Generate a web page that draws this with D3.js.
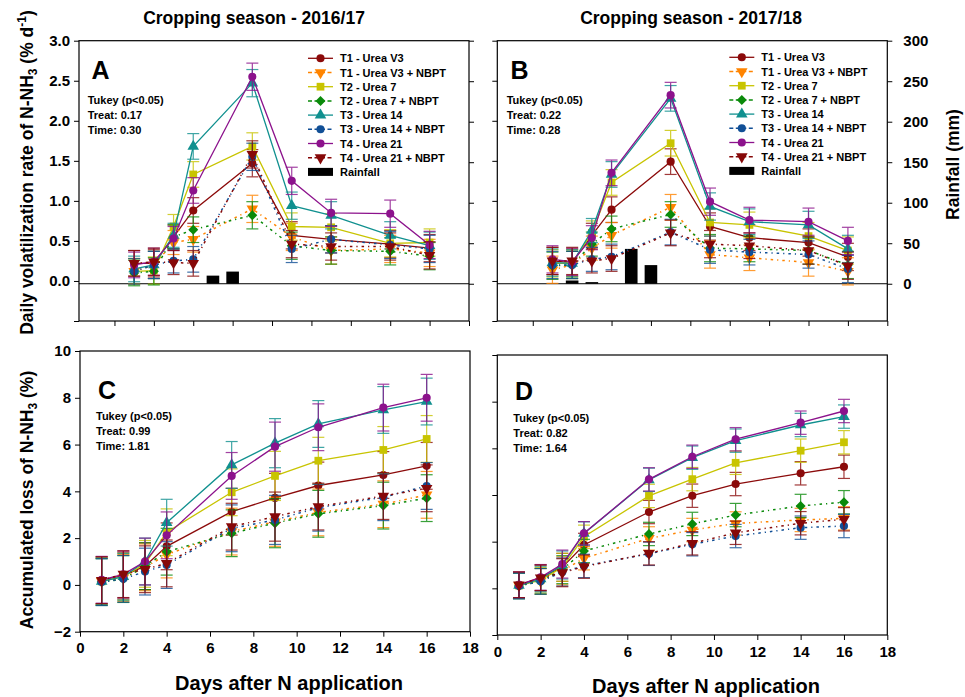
<!DOCTYPE html>
<html><head><meta charset="utf-8">
<script src="https://cdn.jsdelivr.net/npm/d3@7"></script>
<style>
body{margin:0;background:#fff}
svg{font-family:"Liberation Sans",Arial,sans-serif;font-weight:bold}
</style>
</head><body>
<svg id="chart" width="965" height="697"></svg>
<script>
// ---------------- DATA ----------------
const days = [1, 2, 3, 4, 7, 9, 11, 14, 16];
const seriesNames = ["T1 - Urea V3", "T1 - Urea V3 + NBPT", "T2 - Urea 7", "T2 - Urea 7 + NBPT",
  "T3 - Urea 14", "T3 - Urea 14 + NBPT", "T4 - Urea 21", "T4 - Urea 21 + NBPT"];
const seriesColors = ["#8b0a0a", "#ff8400", "#c8c400", "#0a8a0a", "#10908f", "#114f96", "#8c128c", "#860808"];
const seriesSymbols = ["circle", "triangleDown", "square", "diamond", "triangle", "circle", "circle", "triangleDown"];
const seriesDashed = [false, true, false, true, false, true, false, true];

// Panel A – daily volatilization rate, 2016/17 (% d-1)
const rateA = [
  [0.22, 0.22, 0.55, 0.88, 1.47, 0.57, 0.52, 0.46, 0.41],
  [0.12, 0.20, 0.48, 0.52, 0.90, 0.55, 0.38, 0.40, 0.35],
  [0.12, 0.13, 0.68, 1.33, 1.68, 0.68, 0.67, 0.47, 0.48],
  [0.10, 0.12, 0.55, 0.64, 0.82, 0.44, 0.38, 0.37, 0.31],
  [0.15, 0.20, 0.57, 1.68, 2.47, 0.94, 0.82, 0.57, 0.44],
  [0.12, 0.20, 0.25, 0.27, 1.55, 0.40, 0.52, 0.45, 0.40],
  [0.20, 0.24, 0.53, 1.13, 2.55, 1.25, 0.85, 0.84, 0.45],
  [0.22, 0.24, 0.23, 0.22, 1.58, 0.46, 0.43, 0.43, 0.32]
];
const errA = [0.16, 0.17, 0.15, 0.16, 0.17, 0.17, 0.17, 0.17, 0.17];
// Panel B – daily volatilization rate, 2017/18
const rateB = [
  [0.25, 0.23, 0.57, 0.89, 1.49, 0.68, 0.54, 0.48, 0.30],
  [0.14, 0.20, 0.41, 0.57, 0.92, 0.33, 0.29, 0.23, 0.12],
  [0.22, 0.22, 0.60, 1.23, 1.72, 0.73, 0.70, 0.56, 0.38],
  [0.19, 0.20, 0.46, 0.65, 0.83, 0.41, 0.40, 0.38, 0.20],
  [0.23, 0.22, 0.63, 1.33, 2.28, 0.93, 0.74, 0.70, 0.40],
  [0.20, 0.20, 0.27, 0.30, 0.61, 0.39, 0.36, 0.33, 0.15],
  [0.27, 0.24, 0.54, 1.35, 2.32, 0.99, 0.76, 0.74, 0.50],
  [0.25, 0.25, 0.25, 0.28, 0.60, 0.46, 0.44, 0.38, 0.19]
];
const errB = [0.17, 0.17, 0.15, 0.16, 0.16, 0.17, 0.16, 0.17, 0.17];
// Rainfall (mm)
const rainDaysA = [5, 6];
const rainA = [10, 15];
const rainDaysB = [2, 3, 5, 6];
const rainB = [4, 2, 43, 23];
// Panel C – accumulated loss, 2016/17 (%)
const accC = [
  [0.20, 0.40, 0.80, 1.65, 3.13, 3.72, 4.25, 4.70, 5.09],
  [0.15, 0.30, 0.75, 1.30, 2.28, 2.70, 3.10, 3.45, 3.85],
  [0.15, 0.35, 0.90, 2.25, 3.96, 4.66, 5.31, 5.77, 6.24],
  [0.12, 0.25, 0.80, 1.42, 2.21, 2.64, 3.04, 3.39, 3.71],
  [0.15, 0.35, 1.00, 2.66, 5.13, 6.06, 6.88, 7.48, 7.84],
  [0.12, 0.26, 0.57, 0.85, 2.42, 2.78, 3.30, 3.75, 4.23],
  [0.22, 0.45, 1.00, 2.12, 4.66, 5.91, 6.74, 7.58, 8.00],
  [0.20, 0.46, 0.67, 0.92, 2.49, 2.92, 3.35, 3.80, 4.13]
];
const errC = [1.0, 1.0, 1.0, 1.0, 1.0, 1.05, 1.0, 1.0, 1.0];
// Panel D – accumulated loss, 2017/18 (%)
const accD = [
  [0.15, 0.45, 0.90, 1.86, 3.27, 3.97, 4.47, 4.93, 5.21],
  [0.12, 0.30, 0.75, 1.29, 2.14, 2.50, 2.78, 2.93, 3.00],
  [0.12, 0.35, 0.90, 2.21, 3.96, 4.68, 5.38, 5.90, 6.26],
  [0.10, 0.30, 0.80, 1.60, 2.33, 2.76, 3.14, 3.53, 3.69],
  [0.12, 0.40, 1.00, 2.35, 4.65, 5.60, 6.33, 7.00, 7.36],
  [0.10, 0.30, 0.70, 0.96, 1.48, 1.89, 2.24, 2.60, 2.67],
  [0.15, 0.47, 1.04, 2.36, 4.67, 5.64, 6.39, 7.10, 7.60],
  [0.15, 0.45, 0.67, 0.93, 1.50, 1.93, 2.38, 2.79, 2.96]
];
const errD = [0.55, 0.55, 0.6, 0.5, 0.5, 0.5, 0.5, 0.5, 0.5];

const rateTicks = [-0.5, 0, 0.5, 1.0, 1.5, 2.0, 2.5, 3.0];
const rainTicks = [0, 50, 100, 150, 200, 250, 300];
const accTicks = [-2, 0, 2, 4, 6, 8, 10];
const dayTicks = [0, 2, 4, 6, 8, 10, 12, 14, 16, 18];
const tukeyA = ["Tukey (p<0.05)", "Treat: 0.17", "Time: 0.30"];
const tukeyB = ["Tukey (p<0.05)", "Treat: 0.22", "Time: 0.28"];
const tukeyC = ["Tukey (p<0.05)", "Treat: 0.99", "Time: 1.81"];
const tukeyD = ["Tukey (p<0.05)", "Treat: 0.82", "Time: 1.64"];
const titles = ["Cropping season - 2016/17", "Cropping season - 2017/18"];

// ---------------- DRAWING ----------------
const svg = d3.select("#chart");
const DASH = "2.5,4,1.2,4";

function symbolFor(kind) {
  switch (kind) {
    case "circle": return {d: d3.symbol(d3.symbolCircle, 52)(), rot: 0};
    case "square": return {d: d3.symbol(d3.symbolSquare, 60)(), rot: 0};
    case "triangle": return {d: d3.symbol(d3.symbolTriangle, 58)(), rot: 0};
    case "triangleDown": return {d: d3.symbol(d3.symbolTriangle, 58)(), rot: 180};
    case "diamond": return {d: d3.symbol(d3.symbolSquare, 50)(), rot: 45};
  }
}

function drawPanel(p) {
  const g = svg.append("g");
  const x = d3.scaleLinear().domain(p.xDomain).range([p.x0, p.x1]);
  const y = d3.scaleLinear().domain(p.yDomain).range([p.y1, p.y0]);

  // rainfall
  if (p.rain) {
    const r = d3.scaleLinear().domain([-46, 300]).range([p.y1, p.y0]);
    g.selectAll("rect.rain").data(p.rainDays.map((d, i) => [d, p.rain[i]])).join("rect")
      .attr("x", d => x(d[0] - 0.32)).attr("width", d => x(d[0] + 0.32) - x(d[0] - 0.32))
      .attr("y", d => r(d[1])).attr("height", d => r(0) - r(d[1])).attr("fill", "#000");
    g.append("line").attr("x1", p.x0).attr("x2", p.x1).attr("y1", r(0)).attr("y2", r(0))
      .attr("stroke", "#000").attr("stroke-width", 1);
    const ra = d3.axisRight(r).tickValues(rainTicks).tickSize(5).tickSizeOuter(0)
      .tickFormat(p.rainLabels ? d3.format("d") : "");
    const rg = g.append("g").attr("transform", `translate(${p.x1},0)`).call(ra);
    rg.select(".domain").remove();
    rg.selectAll("text").attr("font-size", 15).attr("font-weight", "bold").attr("font-family", "Liberation Sans, Arial, sans-serif").attr("dx", 8).attr("fill", "#000");
  }

  // left axis
  const la = d3.axisLeft(y).tickValues(p.yTicks).tickSize(5).tickSizeOuter(0)
    .tickFormat(p.yLabels ? (v => (v < p.yTicks[0] + 1e-9 && p.skipFirst) ? "" : p.yFmt(v)) : "");
  const lg = g.append("g").attr("transform", `translate(${p.x0},0)`).call(la);
  lg.select(".domain").remove();
  lg.selectAll("text").attr("font-size", 15).attr("font-weight", "bold").attr("font-family", "Liberation Sans, Arial, sans-serif").attr("dx", -1).attr("fill", "#000");
  // bottom axis
  const ba = d3.axisBottom(x).tickValues(dayTicks).tickSize(5).tickSizeOuter(0)
    .tickFormat(p.xLabels ? d3.format("d") : "");
  const bg = g.append("g").attr("transform", `translate(0,${p.y1})`).call(ba);
  bg.select(".domain").remove();
  bg.selectAll("text").attr("font-size", 15).attr("font-weight", "bold").attr("font-family", "Liberation Sans, Arial, sans-serif").attr("dy", "0.9em").attr("fill", "#000");

  // frame
  g.append("rect").attr("x", p.x0).attr("y", p.y0).attr("width", p.x1 - p.x0).attr("height", p.y1 - p.y0)
    .attr("fill", "none").attr("stroke", "#000").attr("stroke-width", 1.2);

  // series
  const line = d3.line().x(d => x(d[0])).y(d => y(d[1]));
  p.data.forEach((vals, si) => {
    const col = seriesColors[si];
    const pts = days.map((d, i) => [d, vals[i], p.err[i]]);
    const eg = g.append("g").attr("stroke", col).attr("stroke-width", 1.2).attr("opacity", 0.8);
    pts.forEach(pt => {
      const xx = x(pt[0]);
      eg.append("line").attr("x1", xx).attr("x2", xx).attr("y1", y(pt[1] - pt[2])).attr("y2", y(pt[1] + pt[2]));
      eg.append("line").attr("x1", xx - 6).attr("x2", xx + 6).attr("y1", y(pt[1] - pt[2])).attr("y2", y(pt[1] - pt[2]));
      eg.append("line").attr("x1", xx - 6).attr("x2", xx + 6).attr("y1", y(pt[1] + pt[2])).attr("y2", y(pt[1] + pt[2]));
    });
    g.append("path").datum(pts).attr("d", line).attr("fill", "none").attr("stroke", col)
      .attr("stroke-width", seriesDashed[si] ? 1.5 : 1.3)
      .attr("stroke-dasharray", seriesDashed[si] ? DASH : null);
    const sym = symbolFor(seriesSymbols[si]);
    g.selectAll(null).data(pts).join("path").attr("d", sym.d)
      .attr("transform", d => `translate(${x(d[0])},${y(d[1])}) rotate(${sym.rot})`)
      .attr("fill", col);
  });

  // panel letter
  g.append("text").attr("x", p.letterX).attr("y", p.letterY).attr("font-size", 25).text(p.letter);
  // Tukey
  p.tukey.forEach((t, i) => {
    g.append("text").attr("x", p.tukX).attr("y", p.tukY + i * 15).attr("font-size", 11).text(t);
  });

  // legend
  if (p.legend) {
    const L = p.legend;
    seriesNames.forEach((nm, i) => {
      const cy = L.y + i * 14.2;
      g.append("line").attr("x1", L.x).attr("x2", L.x + 25).attr("y1", cy).attr("y2", cy)
        .attr("stroke", seriesColors[i]).attr("stroke-width", seriesDashed[i] ? 1.5 : 1.3)
        .attr("stroke-dasharray", seriesDashed[i] ? "4,2.5" : null);
      const sym = symbolFor(seriesSymbols[i]);
      g.append("path").attr("d", sym.d).attr("transform", `translate(${L.x + 12.5},${cy}) rotate(${sym.rot})`)
        .attr("fill", seriesColors[i]);
      g.append("text").attr("x", L.x + 32).attr("y", cy + 4).attr("font-size", 11).text(nm);
    });
    const cy = L.y + 8 * 14.2;
    g.append("rect").attr("x", L.x).attr("y", cy - 4).attr("width", 25).attr("height", 8).attr("fill", "#000");
    g.append("text").attr("x", L.x + 32).attr("y", cy + 4).attr("font-size", 11).text("Rainfall");
  }
}

const fmt1 = d3.format(".1f");
drawPanel({x0: 79, x1: 469, y0: 40.7, y1: 321, xDomain: [-1.8, 18], yDomain: [-0.5, 3.0],
  yTicks: rateTicks, yLabels: true, skipFirst: true, yFmt: fmt1, xLabels: false,
  data: rateA, err: errA, rain: rainA, rainDays: rainDaysA, rainLabels: false,
  letter: "A", letterX: 91.5, letterY: 78.5, tukey: tukeyA, tukX: 87.7, tukY: 104,
  legend: {x: 308, y: 58.3}});
drawPanel({x0: 497.3, x1: 887.3, y0: 40.7, y1: 321, xDomain: [-1.8, 18], yDomain: [-0.5, 3.0],
  yTicks: rateTicks, yLabels: false, yFmt: fmt1, xLabels: false,
  data: rateB, err: errB, rain: rainB, rainDays: rainDaysB, rainLabels: true,
  letter: "B", letterX: 510.5, letterY: 78.5, tukey: tukeyB, tukX: 506.7, tukY: 104,
  legend: {x: 729.3, y: 57.3}});
drawPanel({x0: 80, x1: 470, y0: 351, y1: 631.7, xDomain: [0, 18], yDomain: [-2, 10],
  yTicks: accTicks, yLabels: true, skipFirst: false, yFmt: d3.format("d"), xLabels: true,
  data: accC, err: errC, letter: "C", letterX: 98, letterY: 398.5, tukey: tukeyC, tukX: 96, tukY: 420});
drawPanel({x0: 497.3, x1: 887.3, y0: 355, y1: 635, xDomain: [0, 18], yDomain: [-2, 10],
  yTicks: accTicks, yLabels: false, yFmt: d3.format("d"), xLabels: true,
  data: accD, err: errD, letter: "D", letterX: 515, letterY: 400, tukey: tukeyD, tukX: 513.3, tukY: 421.7});

// titles
svg.append("text").attr("x", 254).attr("y", 24).attr("text-anchor", "middle").attr("font-size", 17.5).text(titles[0]);
svg.append("text").attr("x", 691).attr("y", 24).attr("text-anchor", "middle").attr("font-size", 17.5).text(titles[1]);

// axis titles
const yt1 = svg.append("text").attr("transform", "translate(33,172.5) rotate(-90)").attr("text-anchor", "middle").attr("font-size", 17.5);
yt1.append("tspan").text("Daily volatilization rate of N-NH");
yt1.append("tspan").attr("font-size", 12).attr("dy", 4).text("3");
yt1.append("tspan").attr("dy", -4).text(" (% d");
yt1.append("tspan").attr("font-size", 12).attr("dy", -7).text("-1");
yt1.append("tspan").attr("dy", 7).text(")");

const yt2 = svg.append("text").attr("transform", "translate(33,500) rotate(-90)").attr("text-anchor", "middle").attr("font-size", 17.5);
yt2.append("tspan").text("Accumulated loss of N-NH");
yt2.append("tspan").attr("font-size", 12).attr("dy", 4).text("3");
yt2.append("tspan").attr("dy", -4).text(" (%)");

svg.append("text").attr("transform", "translate(959,164.5) rotate(-90)").attr("text-anchor", "middle").attr("font-size", 17.5).text("Rainfall (mm)");
svg.append("text").attr("x", 289).attr("y", 689.5).attr("text-anchor", "middle").attr("font-size", 20).text("Days after N application");
svg.append("text").attr("x", 706).attr("y", 692.5).attr("text-anchor", "middle").attr("font-size", 20).text("Days after N application");
</script>
</body></html>
